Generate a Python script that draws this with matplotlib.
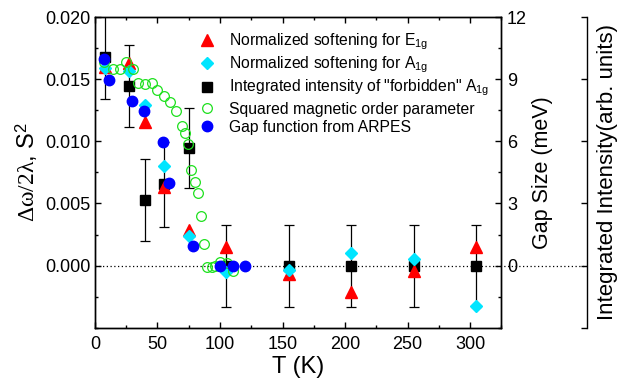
import numpy as np
import matplotlib
matplotlib.use('Agg')
import matplotlib.pyplot as plt
from matplotlib.lines import Line2D
from matplotlib.ticker import MultipleLocator, FixedLocator, FormatStrFormatter

plt.rcParams['font.family'] = ['Liberation Sans', 'DejaVu Sans']
plt.rcParams['mathtext.fontset'] = 'custom'
plt.rcParams['mathtext.rm'] = 'Liberation Serif'
plt.rcParams['mathtext.it'] = 'Liberation Serif:italic'
plt.rcParams['mathtext.sf'] = 'Liberation Sans'

# Normalized softening for E1g
t_e1g = [8, 27, 40, 55, 75, 105, 155, 205, 255, 305]
e1g = [0.0160, 0.0163, 0.01158, 0.00634, 0.0029, 0.0015, -0.0007, -0.00213, -0.00043, 0.0015]

# Normalized softening for A1g
t_a1g = [8, 27, 40, 55, 75, 105, 155, 205, 255, 305]
a1g = [0.0159, 0.01567, 0.01293, 0.00803, 0.00236, -0.00051, -0.00032, 0.00105, 0.00051, -0.00326]

# Integrated intensity of forbidden A1g (with error bars)
t_int = [8, 27, 40, 55, 75, 105, 155, 205, 255, 305]
intens = [0.0168, 0.01448, 0.00527, 0.00653, 0.00948, 0.0, 0.0, 0.0, 0.0, 0.0]
int_err = [0.0034, 0.0033, 0.0033, 0.0034, 0.0032, 0.0033, 0.0033, 0.0033, 0.0033, 0.0033]

# Squared magnetic order parameter
t_s2 = [7.5, 14.7, 19.8, 24.6, 30.2, 34.7, 40.1, 45.5, 50.0, 55.3, 60.1, 65.0,
        69.5, 72.2, 74.8, 77.0, 80.2, 82.3, 85.0, 86.9, 89.3, 93.5, 96.2,
        100.2, 105.6, 110.1]
s2 = [0.01642, 0.01583, 0.01583, 0.01642, 0.01583, 0.01468, 0.0146, 0.01468,
      0.01414, 0.01368, 0.01314, 0.01244, 0.01126, 0.01065, 0.00976, 0.00769,
      0.00674, 0.00586, 0.0040, 0.00177, -0.0001, -0.0001, 0.0, 0.0003,
      0.0002, -0.0004]

# Gap function from ARPES (meV)
t_gap = [7.5, 11.2, 30.0, 39.3, 54.3, 59.6, 78.8, 100.2, 110.0, 120.3]
gap = [9.98, 8.96, 7.95, 7.47, 5.98, 3.97, 0.95, 0.0, 0.0, 0.0]

left_ticks = [0.0, 0.005, 0.010, 0.015, 0.020]
gap_ticks = [0, 3, 6, 9, 12]

fig = plt.figure(figsize=(6.29, 3.81), dpi=100)
ax = fig.add_axes([0.151, 0.140, 0.646, 0.815])

ax.plot([0, 1.212], [0, 0], ls=(0, (1, 2)), color='black', lw=0.9,
        transform=ax.get_yaxis_transform(), clip_on=False, zorder=1)

ax.errorbar(t_int, intens, yerr=int_err, fmt='s', color='black', ms=6.5,
            ecolor='black', elinewidth=0.9, capsize=3.5, capthick=0.9, zorder=3)
h_int = Line2D([], [], marker='s', color='black', ms=6.5, ls='none',
               label='Integrated intensity of "forbidden" A$_{\\mathsf{1g}}$')
h_e1g, = ax.plot(t_e1g, e1g, '^', color='red', ms=8, ls='none',
                 label='Normalized softening for E$_{\\mathsf{1g}}$', zorder=4)
h_a1g, = ax.plot(t_a1g, a1g, 'D', color='#00e5ff', ms=6.5, ls='none',
                 label='Normalized softening for A$_{\\mathsf{1g}}$', zorder=5)
h_s2, = ax.plot(t_s2, s2, 'o', mfc='none', mec='#1ee01e', mew=0.9, ms=7, ls='none',
                label='Squared magnetic order parameter', zorder=6)

ax2 = ax.twinx()
h_gap, = ax2.plot(t_gap, gap, 'o', color='#0000ff', ms=7.5, ls='none',
                  label='Gap function from ARPES', zorder=7)

ax.set_xlim(0, 325)
ax.set_ylim(-0.005, 0.020)
ax2.set_ylim(-3, 12)
ax.xaxis.set_major_locator(MultipleLocator(50))
ax.xaxis.set_minor_locator(MultipleLocator(25))
ax.yaxis.set_major_locator(FixedLocator(left_ticks))
ax.yaxis.set_minor_locator(MultipleLocator(0.0025))
ax.yaxis.set_major_formatter(FormatStrFormatter('%.3f'))
ax2.yaxis.set_major_locator(FixedLocator(gap_ticks))
ax2.yaxis.set_minor_locator(MultipleLocator(1.5))

ax.tick_params(which='both', direction='in', top=True, right=False, labelsize=13, width=1)
ax.tick_params(which='major', length=4)
ax.tick_params(which='minor', length=2.5)
ax.tick_params(axis='x', pad=6)
ax.tick_params(axis='y', pad=3)
ax2.tick_params(which='both', direction='in', labelsize=13, width=1, pad=4)
ax2.tick_params(which='major', length=4)
ax2.tick_params(which='minor', length=2.5)

ax2.set_zorder(ax.get_zorder() + 1)
ax2.patch.set_visible(False)

for a in (ax, ax2):
    for s in a.spines.values():
        s.set_linewidth(1)

ax.set_xlabel('T (K)', fontsize=17, labelpad=2)
ax.set_ylabel(r'$\mathrm{\Delta\omega/2\lambda}$, S$^{\mathsf{2}}$', fontsize=17, labelpad=4)
ax2.set_ylabel('Gap Size (meV)', fontsize=15.5, labelpad=4)

# third axis, no tick labels
ax3 = ax.twinx()
ax3.spines['right'].set_position(('axes', 1.212))
ax3.spines['right'].set_linewidth(1)
for k in ('top', 'left', 'bottom'):
    ax3.spines[k].set_visible(False)
ax3.set_ylim(-0.005, 0.020)
ax3.yaxis.set_major_locator(MultipleLocator(0.005))
ax3.tick_params(which='major', direction='in', length=4, width=1, labelright=False)
ax3.set_ylabel('Integrated Intensity(arb. units)', fontsize=16, labelpad=7)
ax3.patch.set_visible(False)

handles = [h_e1g, h_a1g, h_int, h_s2, h_gap]
labels = [x.get_label() for x in handles]
ax2.legend(handles, labels, loc='upper left', bbox_to_anchor=(0.23, 0.99),
           frameon=False, fontsize=11.3, handlelength=1.0, handletextpad=0.9,
           labelspacing=0.2, borderpad=0.2)

fig.savefig('out.png', dpi=100)
